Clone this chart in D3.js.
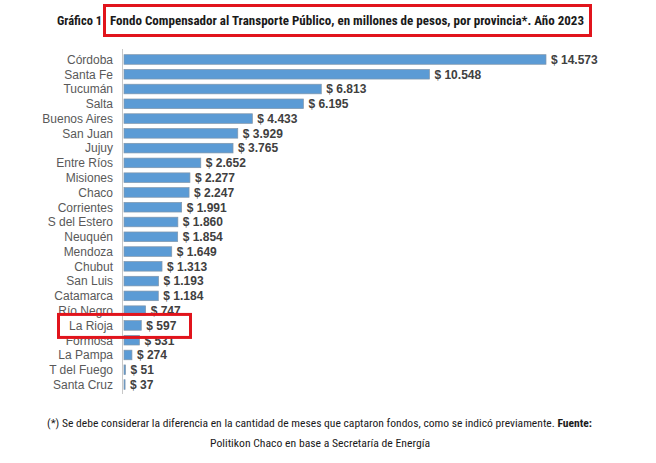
<!DOCTYPE html>
<html>
<head>
<meta charset="utf-8">
<script src="https://cdn.jsdelivr.net/npm/d3@7"></script>
<style>
  body { margin: 0; background: #fff; }
  svg { display: block; }
</style>
</head>
<body>
<svg id="chart"></svg>
<script>
const provincias = ["Córdoba", "Santa Fe", "Tucumán", "Salta", "Buenos Aires", "San Juan", "Jujuy",
  "Entre Ríos", "Misiones", "Chaco", "Corrientes", "S del Estero", "Neuquén", "Mendoza", "Chubut",
  "San Luis", "Catamarca", "Río Negro", "La Rioja", "Formosa", "La Pampa", "T del Fuego", "Santa Cruz"];
const montos = [14573, 10548, 6813, 6195, 4433, 3929, 3765, 2652, 2277, 2247, 1991, 1860, 1854,
  1649, 1313, 1193, 1184, 747, 597, 531, 274, 51, 37];
const destacada = "La Rioja";

const titulo = "Fondo Compensador al Transporte Público, en millones de pesos, por provincia*. Año 2023";
const nota1 = "(*) Se debe considerar la diferencia en la cantidad de meses que captaron fondos, como se indicó previamente. ";
const nota2 = "Politikon Chaco en base a Secretaría de Energía";

const width = 656, height = 463;
const svg = d3.select("#chart").attr("width", width).attr("height", height);

const locale = d3.formatLocale({ decimal: ",", thousands: ".", grouping: [3], currency: ["$", ""] });
const fmt = locale.format(",");

const x = d3.scaleLinear().domain([0, d3.max(montos)]).range([124, 546]);
const y = d3.scaleBand().domain(provincias).range([49.5, 394.5]).padding(0.35);

const data = provincias.map((p, i) => ({ name: p, value: montos[i] }));

// title
const cond = "'Liberation Sans Narrow', 'Arial Narrow', 'Roboto Condensed', 'Liberation Sans', sans-serif";
svg.append("text")
  .attr("x", 57).attr("y", 25)
  .attr("font-family", cond).attr("font-weight", "bold").attr("font-size", 12.5)
  .attr("fill", "#1a1a1a")
  .attr("textLength", 45).attr("lengthAdjust", "spacingAndGlyphs")
  .text("Gráfico 1");
svg.append("text")
  .attr("x", 110).attr("y", 25)
  .attr("font-family", cond).attr("font-weight", "bold").attr("font-size", 12.5)
  .attr("fill", "#1a1a1a")
  .attr("textLength", 474).attr("lengthAdjust", "spacingAndGlyphs")
  .text(titulo);
svg.append("rect")
  .attr("x", 104.5).attr("y", 5.5).attr("width", 486).attr("height", 30)
  .attr("fill", "none").attr("stroke", "#e1141c").attr("stroke-width", 3);

// bars
svg.append("g").selectAll("rect")
  .data(data).join("rect")
  .attr("x", x(0))
  .attr("y", d => y(d.name))
  .attr("width", d => Math.max(1, x(d.value) - x(0)))
  .attr("height", y.bandwidth())
  .attr("fill", "#5b9bd5")
  .attr("stroke", "#8096ab")
  .attr("stroke-width", 0.7);

// axis line
svg.append("line")
  .attr("x1", 122.5).attr("x2", 122.5)
  .attr("y1", 49).attr("y2", 394)
  .attr("stroke", "#c8c8c8").attr("stroke-width", 1);

// category labels
svg.append("g").selectAll("text")
  .data(data).join("text")
  .attr("x", 113)
  .attr("y", d => y(d.name) + y.bandwidth() / 2)
  .attr("dy", "0.36em")
  .attr("text-anchor", "end")
  .attr("font-family", "'Liberation Sans', Arial, sans-serif")
  .attr("font-size", 12)
  .attr("fill", "#595959")
  .text(d => d.name);

// value labels
svg.append("g").selectAll("text")
  .data(data).join("text")
  .attr("x", d => x(d.value) + 5)
  .attr("y", d => y(d.name) + y.bandwidth() / 2)
  .attr("dy", "0.36em")
  .attr("font-family", "'Liberation Sans', Arial, sans-serif")
  .attr("font-size", 12)
  .attr("font-weight", "bold")
  .attr("fill", "#404040")
  .text(d => "$ " + fmt(d.value));

// highlight box
const yd = y(destacada) + y.bandwidth() / 2;
svg.append("rect")
  .attr("x", 58.5).attr("y", yd - 11)
  .attr("width", 132).attr("height", 23)
  .attr("fill", "none").attr("stroke", "#e1141c").attr("stroke-width", 3);

// notes
const n1 = svg.append("text")
  .attr("x", 47).attr("y", 427)
  .attr("font-family", cond).attr("font-size", 10.5)
  .attr("fill", "#1a1a1a")
  .attr("textLength", 545).attr("lengthAdjust", "spacingAndGlyphs");
n1.append("tspan").text(nota1);
n1.append("tspan").attr("font-weight", "bold").text("Fuente:");
svg.append("text")
  .attr("x", 210).attr("y", 447)
  .attr("font-family", cond).attr("font-size", 10.5)
  .attr("fill", "#1a1a1a")
  .attr("textLength", 220).attr("lengthAdjust", "spacingAndGlyphs")
  .text(nota2);
</script>
</body>
</html>
